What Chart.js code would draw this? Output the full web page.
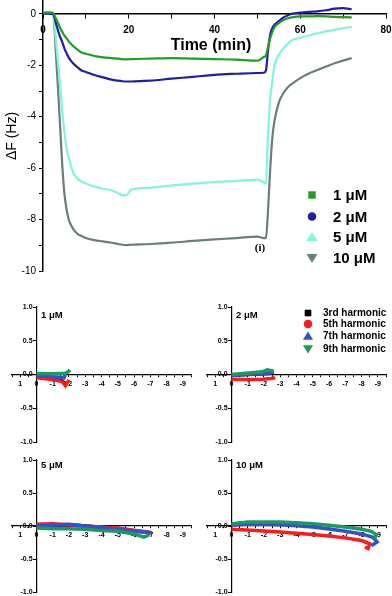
<!DOCTYPE html>
<html><head><meta charset="utf-8">
<script src="https://cdn.jsdelivr.net/npm/chart.js@4.4.0/dist/chart.umd.min.js"></script>
<style>
html,body{margin:0;padding:0;background:#fff;width:392px;height:596px;overflow:hidden}
canvas{position:absolute;display:block}
</style></head><body>
<canvas id="top" width="392" height="290" style="left:0;top:0"></canvas>
<canvas id="p1" width="196" height="150" style="left:0;top:296px"></canvas>
<canvas id="p2" width="197" height="150" style="left:195px;top:296px"></canvas>
<canvas id="p3" width="196" height="150" style="left:0;top:446px"></canvas>
<canvas id="p4" width="197" height="150" style="left:195px;top:446px"></canvas>
<script>
// ---------- Top panel data: ΔF (Hz) vs time (min) ----------
const time = [0, 2, 2.4, 3.0, 3.5, 4.0, 4.5, 5, 5.5, 6, 7, 8, 9, 10, 12, 14, 16, 17.5, 18.5, 19.5, 20.5, 25, 30, 35, 40, 45, 50, 51.5, 52, 52.5, 53, 53.5, 54, 55, 56, 57, 58, 60, 62, 64, 66, 68, 70, 72];
const dF_1uM = [0.05, 0.05, 0.03, -0.18, -0.35, -0.55, -0.7, -0.85, -0.95, -1.07, -1.25, -1.38, -1.5, -1.55, -1.64, -1.69, -1.72, -1.74, -1.76, -1.77, -1.76, -1.74, -1.72, -1.74, -1.76, -1.78, -1.82, -1.68, -1.62, -1.27, -0.95, -0.7, -0.52, -0.36, -0.25, -0.18, -0.14, -0.1, -0.1, -0.09, -0.1, -0.12, -0.13, -0.14];
const dF_2uM = [0.02, 0.0, -0.02, -0.35, -0.65, -0.9, -1.1, -1.35, -1.53, -1.7, -1.92, -2.07, -2.2, -2.26, -2.38, -2.47, -2.56, -2.6, -2.62, -2.63, -2.63, -2.6, -2.52, -2.45, -2.37, -2.33, -2.3, -2.29, -2.2, -1.4, -0.8, -0.55, -0.42, -0.28, -0.15, -0.06, 0.0, 0.05, 0.08, 0.1, 0.14, 0.2, 0.22, 0.18];
const dF_5uM = [0.08, 0.06, 0.02, -1.0, -1.9, -2.8, -3.8, -4.6, -5.25, -5.6, -6.15, -6.4, -6.52, -6.6, -6.72, -6.8, -6.86, -6.98, -7.05, -7.05, -6.85, -6.76, -6.67, -6.6, -6.54, -6.5, -6.45, -6.55, -6.6, -4.64, -3.3, -2.6, -2.0, -1.6, -1.35, -1.18, -1.03, -0.93, -0.84, -0.76, -0.68, -0.62, -0.56, -0.5];
const dF_10uM = [0.03, 0.03, 0.0, -1.5, -2.9, -4.4, -5.9, -7.0, -7.6, -8.0, -8.35, -8.55, -8.64, -8.72, -8.8, -8.85, -8.9, -8.95, -8.98, -8.99, -8.98, -8.95, -8.9, -8.83, -8.77, -8.72, -8.66, -8.72, -8.72, -7.6, -6.0, -4.8, -4.15, -3.45, -3.1, -2.87, -2.73, -2.5, -2.32, -2.18, -2.05, -1.92, -1.82, -1.72];
const concLabels = ['1 μM', '2 μM', '5 μM', '10 μM'];

// ---------- Bottom panels: ΔD vs ΔF per harmonic ----------
const harmonics = ['3rd harmonic', '5th harmonic', '7th harmonic', '9th harmonic'];
// 1 μM
const p1F3 = [0, -0.5, -1.0, -1.5, -1.8];
const p1D3 = [-0.02, -0.035, -0.05, -0.08, -0.14];
const p1F5 = [0, -0.5, -0.9, -1.3, -1.6, -1.78, -1.9, -2.0];
const p1D5 = [-0.05, -0.06, -0.075, -0.09, -0.11, -0.165, -0.12, -0.08];
const p1F7 = [0, -0.5, -0.9, -1.3, -1.7, -1.78, -1.85];
const p1D7 = [-0.015, -0.02, -0.03, -0.04, -0.05, 0.01, 0.035];
const p1F9 = [0, -0.5, -0.9, -1.4, -1.8, -2.0, -2.05];
const p1D9 = [0.01, 0.01, 0.01, 0.015, 0.02, 0.05, 0.07];
// 2 μM
const p2F3 = [0, -1, -1.9, -2.6];
const p2D3 = [-0.01, 0.0, 0.01, 0.02];
const p2F5 = [0, -0.9, -1.9, -2.4, -2.7];
const p2D5 = [-0.07, -0.075, -0.07, -0.06, -0.05];
const p2F7 = [0, -0.9, -1.9, -2.3, -2.6];
const p2D7 = [-0.015, 0.0, 0.01, 0.02, 0.03];
const p2F9 = [0, -0.9, -1.9, -2.2, -2.4, -2.6];
const p2D9 = [0.0, 0.02, 0.04, 0.07, 0.06, 0.05];
// 5 μM
const p3F3 = [0, -1, -2, -3, -4, -5, -6, -7];
const p3D3 = [0.0, 0.01, 0.02, 0.0, -0.02, -0.045, -0.075, -0.1];
const p3F5 = [0, -1, -2, -3, -4, -5, -6, -6.8, -7.0];
const p3D5 = [0.025, 0.035, 0.02, 0.0, -0.015, -0.03, -0.066, -0.09, -0.12];
const p3F7 = [0, -1, -2, -3, -4, -5, -6, -7, -7.0];
const p3D7 = [0.0, 0.01, 0.025, 0.0, -0.025, -0.05, -0.08, -0.1, -0.13];
const p3F9 = [0, -1, -2, -3, -4, -5, -6, -6.6, -6.9];
const p3D9 = [-0.03, -0.04, -0.04, -0.05, -0.07, -0.08, -0.12, -0.17, -0.14];
// 10 μM
const p4F3 = [0, -0.7, -1.4];
const p4D3 = [0.02, 0.05, 0.045];
const p4F5 = [0, -1, -2, -3, -4, -5, -6, -7, -8, -8.5, -8.4, -8.2];
const p4D5 = [-0.05, -0.06, -0.075, -0.09, -0.11, -0.13, -0.15, -0.18, -0.22, -0.27, -0.34, -0.32];
const p4F7 = [0, -1, -2, -3, -4, -5, -6, -7, -8, -8.7, -8.95, -8.6];
const p4D7 = [0.01, 0.03, 0.025, 0.02, 0.005, -0.015, -0.045, -0.08, -0.12, -0.17, -0.24, -0.3];
const p4F9 = [0, -1, -2, -3, -4, -5, -6, -7, -8, -8.6, -8.9, -8.8];
const p4D9 = [0.03, 0.06, 0.06, 0.06, 0.05, 0.035, 0.01, -0.015, -0.05, -0.08, -0.13, -0.2];

// ---------- styles ----------
Chart.defaults.font.family = "'Liberation Sans', Arial, sans-serif";
Chart.defaults.color = '#000';
const concColors = ['#1f9e1f', '#1e1eaa', '#80f5dc', '#6b7d7d'];
const concMarks = ['square', 'circle', 'triangle', 'down'];
const harmColors = ['#000000', '#ff1a1a', '#2f52d0', '#1c9a5c'];

function mark(ctx, style, x, y, r, color) {
  ctx.save(); ctx.fillStyle = color; ctx.beginPath();
  if (style === 'square') ctx.rect(x - r, y - r, 2 * r, 2 * r);
  else if (style === 'circle') ctx.arc(x, y, r, 0, Math.PI * 2);
  else if (style === 'triangle') { ctx.moveTo(x, y - r); ctx.lineTo(x + r * 1.1, y + r * 0.8); ctx.lineTo(x - r * 1.1, y + r * 0.8); ctx.closePath(); }
  else { ctx.moveTo(x, y + r); ctx.lineTo(x + r * 1.1, y - r * 0.8); ctx.lineTo(x - r * 1.1, y - r * 0.8); ctx.closePath(); }
  ctx.fill(); ctx.restore();
}

const topDecor = {
  id: 'topDecor',
  afterDraw(chart) {
    const ctx = chart.ctx;
    ctx.save();
    ctx.fillStyle = '#000';
    ctx.textBaseline = 'middle';
    ctx.textAlign = 'center';
    ctx.font = "bold 16px 'Liberation Sans', Arial, sans-serif";
    ctx.fillText('Time (min)', 211, 46);
    ctx.font = "bold 11px 'Liberation Serif', 'Times New Roman', serif";
    ctx.fillText('(i)', 260, 248);
    ctx.textAlign = 'left';
    ctx.font = "bold 15px 'Liberation Sans', Arial, sans-serif";
    const rows = [195, 216.5, 237, 258];
    const sizes = [3.7, 4.3, 5, 5];
    concLabels.forEach((l, i) => {
      mark(ctx, concMarks[i], 312, rows[i], sizes[i], concColors[i]);
      ctx.fillStyle = '#000';
      ctx.fillText(l, 333, rows[i] + 1);
    });
    ctx.restore();
  }
};

const series = [dF_1uM, dF_2uM, dF_5uM, dF_10uM];
new Chart(document.getElementById('top'), {
  type: 'line',
  data: {
    datasets: series.map((s, i) => ({
      label: concLabels[i],
      data: s.map((v, j) => ({ x: time[j], y: v })),
      borderColor: concColors[i], backgroundColor: concColors[i],
      borderWidth: 2.2, pointRadius: 0, fill: false,
      cubicInterpolationMode: 'monotone'
    }))
  },
  options: {
    responsive: false, animation: false, devicePixelRatio: 1,
    layout: { padding: { left: 0, top: 1, right: 6, bottom: 19 } },
    plugins: { legend: { display: false }, tooltip: { enabled: false } },
    scales: {
      x: {
        type: 'linear', min: 0, max: 80, position: { y: 0 },
        ticks: { stepSize: 10, autoSkip: false, maxRotation: 0, padding: 6, font: { size: 10, weight: 'bold' },
          callback: v => (v % 20 === 0 ? String(v) : '') },
        grid: { drawOnChartArea: false, drawTicks: true, tickLength: 4, color: '#000' },
        border: { display: true, color: '#000', width: 1.5 },
        afterFit: s => { s.height = 0; s.paddingLeft = 0; s.paddingRight = 0; }
      },
      y: {
        type: 'linear', min: -10, max: 0.5, position: 'left',
        ticks: { stepSize: 1, autoSkip: false, padding: 3, font: { size: 10 },
          callback: v => (v % 2 === 0 ? String(v) : '') },
        afterBuildTicks: s => { s.ticks = s.ticks.filter(t => Number.isInteger(t.value)); },
        grid: { drawOnChartArea: false, tickLength: 4, color: '#000' },
        border: { display: true, color: '#000', width: 1.5 },
        title: { display: true, text: 'ΔF (Hz)', font: { size: 14 }, padding: { top: 4, bottom: 0 } },
        afterFit: s => { s.width = 43; s.paddingTop = 0; s.paddingBottom = 0; }
      }
    }
  },
  plugins: [topDecor]
});

function panel(id, tag, fArrs, dArrs, padTop, padRight, legend) {
  const deco = {
    id: 'deco' + id,
    afterDraw(chart) {
      const ctx = chart.ctx;
      ctx.save();
      ctx.fillStyle = '#000';
      ctx.textBaseline = 'middle';
      ctx.textAlign = 'left';
      ctx.font = "bold 9.5px 'Liberation Sans', Arial, sans-serif";
      ctx.fillText(tag, 41, 19);
      if (legend) {
        const rows = [17, 28, 40, 53];
        const sizes = [3.3, 4.3, 4.6, 4.6];
        const marks = ['square', 'circle', 'triangle', 'down'];
        ctx.font = "bold 10px 'Liberation Sans', Arial, sans-serif";
        harmonics.forEach((h, i) => {
          mark(ctx, marks[i], 113, rows[i], sizes[i], harmColors[i]);
          ctx.fillStyle = '#000';
          ctx.fillText(h, 128, rows[i] + 0.5);
        });
      }
      ctx.restore();
    }
  };
  new Chart(document.getElementById(id), {
    type: 'scatter',
    data: {
      datasets: harmonics.map((h, i) => ({
        label: h,
        data: fArrs[i].map((f, j) => ({ x: f, y: dArrs[i][j] })),
        showLine: true, borderColor: harmColors[i], backgroundColor: harmColors[i],
        borderWidth: 3.5, pointRadius: 0, order: 4 - i
      }))
    },
    options: {
      responsive: false, animation: false, devicePixelRatio: 1,
      layout: { padding: { left: 12, right: padRight, top: padTop, bottom: 4 } },
      plugins: { legend: { display: false }, tooltip: { enabled: false } },
      scales: {
        x: {
          type: 'linear', reverse: true, min: -9.5, max: 1.5, position: { y: 0 },
          ticks: { stepSize: 0.5, autoSkip: false, maxRotation: 0, padding: 3, font: { size: 7, weight: 'bold' },
            callback: v => (Number.isInteger(v) ? String(v) : '') },
          grid: { drawOnChartArea: false, tickLength: 2, color: '#000' },
          border: { display: true, color: '#000', width: 1.2 },
          afterFit: s => { s.height = 0; s.paddingLeft = 0; s.paddingRight = 0; }
        },
        y: {
          type: 'linear', min: -1, max: 1, position: { x: 0 },
          ticks: { stepSize: 0.5, autoSkip: false, font: { size: 7, weight: 'bold' },
            callback: v => v.toFixed(1) + '  ' },
          grid: { drawOnChartArea: false, tickLength: 3, color: '#000' },
          border: { display: true, color: '#000', width: 1.2 },
          afterFit: s => { s.width = 0; s.paddingTop = 0; s.paddingBottom = 0; }
        }
      }
    },
    plugins: [deco]
  });
}

panel('p1', '1 μM', [p1F3, p1F5, p1F7, p1F9], [p1D3, p1D5, p1D7, p1D9], 11, 5, false);
panel('p2', '2 μM', [p2F3, p2F5, p2F7, p2F9], [p2D3, p2D5, p2D7, p2D9], 11, 6, true);
panel('p3', '5 μM', [p3F3, p3F5, p3F7, p3F9], [p3D3, p3D5, p3D7, p3D9], 14, 5, false);
panel('p4', '10 μM', [p4F3, p4F5, p4F7, p4F9], [p4D3, p4D5, p4D7, p4D9], 14, 6, false);
</script></body></html>
